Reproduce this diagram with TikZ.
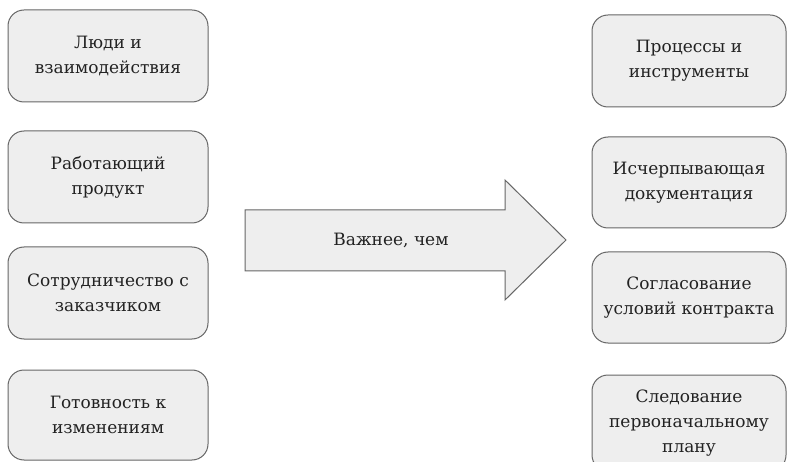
\documentclass[tikz,border=0pt]{standalone}
\usepackage{fontspec}
\setmainfont{DejaVu Serif}
\definecolor{boxfill}{HTML}{EEEEEE}
\definecolor{boxline}{HTML}{666666}
\definecolor{txt}{HTML}{222222}
\begin{document}
\begin{tikzpicture}[x=1pt,y=1pt,
  card/.style={draw=boxline, line width=1pt, fill=boxfill, rounded corners=16pt,
    minimum width=200pt, minimum height=92pt, align=center, text=txt,
    font=\fontsize{17pt}{25pt}\selectfont, inner sep=0pt},
  rcard/.style={card, minimum width=194pt}]
\useasboundingbox (0,0) rectangle (787,-462);
\clip (0,0) rectangle (787,-462);
\node[card] (l1) at (108,-56) {Люди и\\взаимодействия};
\node[card] (l2) at (108,-177) {Работающий\\продукт};
\node[card] (l3) at (108,-293) {Сотрудничество с\\заказчиком};
\node[card, minimum height=90pt] (l4) at (108,-415) {Готовность к\\изменениям};
\node[rcard] (r1) at (689,-61) {Процессы и\\инструменты};
\node[rcard, minimum height=91pt] (r2) at (689,-182.5) {Исчерпывающая\\документация};
\node[rcard, minimum height=91pt] (r3) at (689,-297.5) {Согласование\\условий контракта};
\node[rcard, minimum height=96pt] (r4) at (689,-423) {Следование\\первоначальному\\плану};
\draw[draw=boxline, line width=1pt, fill=boxfill, line join=miter]
  (245,-210) -- (505,-210) -- (505,-180) -- (566,-240) -- (505,-300) -- (505,-271) -- (245,-271) -- cycle;
\node[text=txt, font=\fontsize{17pt}{25pt}\selectfont] (arr) at (391,-240) {Важнее, чем};
\end{tikzpicture}
\end{document}
